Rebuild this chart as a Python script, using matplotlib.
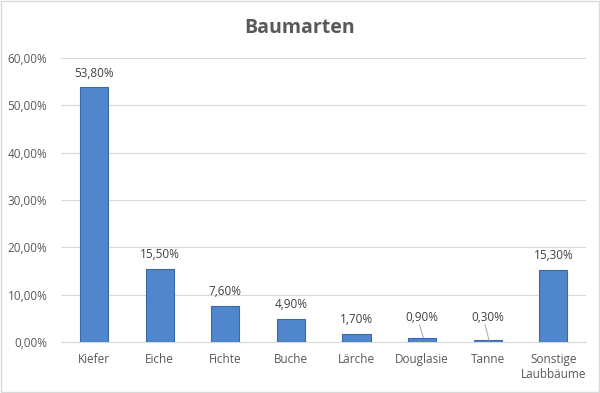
import matplotlib.pyplot as plt
from matplotlib.ticker import FuncFormatter

categories = ["Kiefer", "Eiche", "Fichte", "Buche", "Lärche",
              "Douglasie", "Tanne", "Sonstige\nLaubbäume"]
shares = [53.8, 15.5, 7.6, 4.9, 1.7, 0.9, 0.3, 15.3]
labels = ["53,80%", "15,50%", "7,60%", "4,90%", "1,70%",
          "0,90%", "0,30%", "15,30%"]
# label heights (in %) where Excel put them, leader lines for the small ones
label_y = [55.3, 17.2, 9.3, 6.6, 3.4, 3.8, 3.8, 17.0]

plt.rcParams["font.family"] = ["Open Sans", "DejaVu Sans"]

fig = plt.figure(figsize=(6, 3.93), dpi=100)
ax = fig.add_axes([0.102, 0.130, 0.875, 0.722])

x = range(len(categories))
ax.bar(x, shares, width=0.43, color="#5086cc",
       edgecolor="#3a68a8", linewidth=0.8, zorder=3)

for i, (v, lab, ly) in enumerate(zip(shares, labels, label_y)):
    ax.text(i, ly, lab, ha="center", va="bottom",
            fontsize=8.5, color="#404040", zorder=4)
    if ly - v > 2.5:
        ax.plot([i - 0.04, i + 0.02], [ly - 0.2, v], color="#a6a6a6",
                linewidth=0.7, zorder=4)

ax.set_xlim(-0.5, len(categories) - 0.5)
ax.set_ylim(0, 60)
ax.set_yticks(range(0, 61, 10))
ax.yaxis.set_major_formatter(
    FuncFormatter(lambda v, _: f"{v:.2f}%".replace(".", ",")))
ax.set_xticks(list(x))
ax.set_xticklabels(categories)
ax.tick_params(axis="both", labelsize=8.5, colors="#595959", length=0)
ax.tick_params(axis="x", pad=8)
ax.tick_params(axis="y", pad=10)

ax.yaxis.grid(True, color="#d9d9d9", linewidth=0.8, zorder=0)
for s in ["top", "right", "left"]:
    ax.spines[s].set_visible(False)
ax.spines["bottom"].set_color("#d9d9d9")

fig.text(0.5, 0.93, "Baumarten", ha="center", va="center", fontsize=14,
         fontweight="bold", color="#595959")

fig.patches.append(plt.Rectangle((0.002, 0.002), 0.996, 0.996,
                                 transform=fig.transFigure, fill=False,
                                 edgecolor="#d9d9d9", linewidth=1))

fig.savefig("out.png", dpi=100)
